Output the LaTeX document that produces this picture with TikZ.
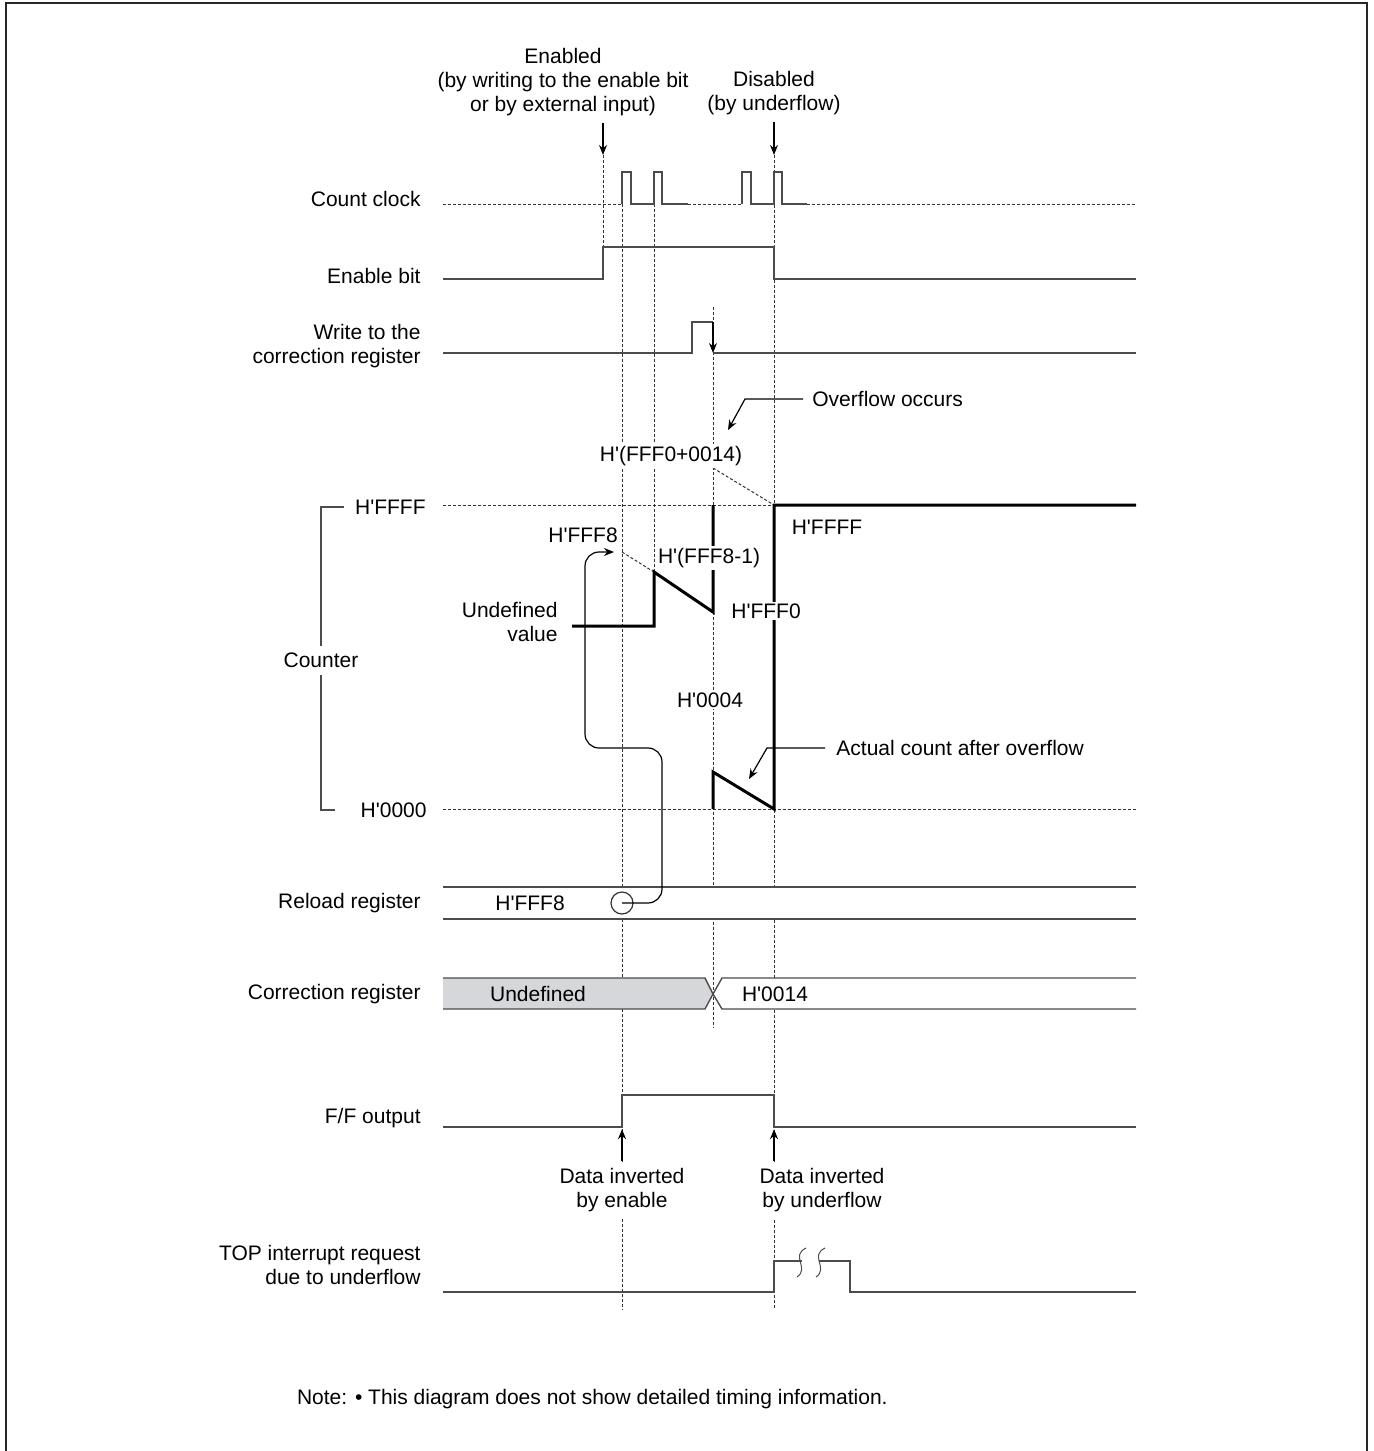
\documentclass[tikz,border=0pt]{standalone}
\usepackage{fontspec}
\setmainfont{Liberation Sans}
\usepackage{xcolor}
\usetikzlibrary{arrows.meta,positioning}
\definecolor{undefgray}{RGB}{213,215,219}
\newcommand{\Hx}[1]{H\textquotesingle#1}

\begin{document}
\begin{tikzpicture}[x=0.5pt, y=-0.5pt, font=\fontsize{10.5}{12}\selectfont,
  sig/.style={draw=black!70, line width=0.7pt},
  cnt/.style={draw=black, line width=1.5pt},
  guide/.style={draw=black!80, line width=0.5pt, dash pattern=on 1.5pt off 1pt},
  lbl/.style={anchor=east, align=right, inner sep=0pt},
  val/.style={fill=white, draw=none, inner sep=1pt},
  annot/.style={-{Stealth[length=5pt, width=4pt]}, line width=0.6pt}]
  \useasboundingbox (0,0) rectangle (1374,1451);
  \draw[line width=1pt, black!85] (6,1451) -- (6,3) -- (1367,3) -- (1367,1451);

  % signal names
  \node[lbl] (lclk) at (421,199) {Count clock};
  \node[lbl] (len) at (421,276) {Enable bit};
  \node[lbl] (lwr) at (421,346) {Write to the\\correction register};
  \node[lbl] (lmax) at (426,507) {\Hx{FFFF}};
  \node[lbl] (lmin) at (427,810) {\Hx{0000}};
  \node (lcnt) at (321,660) {Counter};
  \node[lbl] (lrel) at (421,903) {Reload register};
  \node[lbl] (lcor) at (421,994) {Correction register};
  \node[lbl] (lff) at (421,1118) {F/F output};
  \node[lbl] (ltop) at (421,1265) {TOP interrupt request\\due to underflow};
  \draw[sig] (344,507) -- (321,507) -- (lcnt.north);
  \draw[sig] (335,810) -- (321,810) -- (lcnt.south);

  % events
  \node[align=center] (enl) at (563,82) {Enabled\\(by writing to the enable bit\\or by external input)};
  \node[align=center] (disl) at (774,93) {Disabled\\(by underflow)};
  \coordinate (enpt) at (603,155);
  \coordinate (dispt) at (774,155);
  \draw[annot] (enl.south -| enpt) -- (enpt);
  \draw[annot] (disl.south -| dispt) -- (dispt);

  % guide lines
  \draw[guide] (enpt) -- (603,247);
  \draw[guide] (622,204) -- (622,1310);
  \draw[guide] (654,204) -- (654,572);
  \draw[guide] (713,307) -- (713,1028);
  \draw[guide] (dispt) -- (774,1310);
  \draw[guide] (443,505) -- (774,505);
  \draw[guide] (443,809) -- (1136,809);
  \draw[guide] (622,552) -- (654,572);
  \draw[guide] (713,468) -- (774,505);

  % count clock
  \draw[guide] (443,204) -- (622,204) (688,204) -- (742,204) (807,204) -- (1136,204);
  \draw[sig] (622,204) -- (622,172) -- (631,172) -- (631,204) -- (654,204) -- (654,172)
    -- (662,172) -- (662,204) -- (688,204);
  \draw[sig] (742,204) -- (742,172) -- (751,172) -- (751,204) -- (774,204) -- (774,172)
    -- (782,172) -- (782,204) -- (807,204);

  % enable bit, write
  \draw[sig] (443,279) -- (603,279) -- (603,247) -- (774,247) -- (774,279) -- (1136,279);
  \draw[sig] (443,353) -- (692,353) -- (692,322) -- (713,322);
  \draw[annot] (713,322) -- (713,353);
  \draw[sig] (713,353) -- (1136,353);

  % counter
  \draw[cnt] (572,626) -- (654,626) -- (654,572) -- (713,612) -- (713,505);
  \draw[cnt] (713,809) -- (713,772) -- (774,809) -- (774,505) -- (1136,505);
  \node[val] (vsum) at (671,456) {\Hx{(FFF0+0014)}};
  \node[val] (vmax) at (827,527) {\Hx{FFFF}};
  \node[val] (vrel) at (583,535) {\Hx{FFF8}};
  \node[val] (vdec) at (709,558) {\Hx{(FFF8-1)}};
  \node[val] (vfff) at (766,611) {\Hx{FFF0}};
  \node[val] (vfour) at (710,700) {\Hx{0004}};
  \node[lbl] (vund) at (558,622) {Undefined\\value};

  \node[anchor=west, inner sep=0pt] (ovf) at (812,399) {Overflow occurs};
  \draw[annot] ([xshift=-4.5pt]ovf.west) -- (745,399) -- (728,430);
  \node[anchor=west, inner sep=0pt] (act) at (836,748) {Actual count after overflow};
  \draw[annot] ([xshift=-5.5pt]act.west) -- (767,748) -- (749,779);

  % reload register
  \fill[white] (443,887) rectangle (1136,919);
  \draw[sig] (443,887) -- (1136,887) (443,919) -- (1136,919);
  \node (rval) at (530,903) {\Hx{FFF8}};
  \node[circle, draw=black!80, line width=0.6pt, minimum size=11pt, inner sep=0pt] (src) at (622,903) {};
  \coordinate (reltip) at (614,552);
  \draw[annot, rounded corners=7pt] (src.center) -- (662,903) -- (662,748) -- (585,748)
    -- (585,552) -- (reltip);

  % correction register
  \draw[sig, fill=undefgray] (443,978) -- (705,978) -- (713,994) -- (705,1009) -- (443,1009);
  \fill[white] (1136,978) -- (722,978) -- (716,988) -- (716,1000) -- (722,1009) -- (1136,1009);
  \draw[sig] (1136,978) -- (722,978) -- (713,994) -- (722,1009) -- (1136,1009);
  \node (cund) at (538,994) {Undefined};
  \node (cval) at (775,994) {\Hx{0014}};

  % F/F output
  \draw[sig] (443,1127) -- (622,1127) -- (622,1095) -- (774,1095) -- (774,1127) -- (1136,1127);
  \node[align=center, fill=white] (inv1) at (622,1190) {Data inverted\\by enable};
  \node[align=center, fill=white] (inv2) at (822,1190) {Data inverted\\by underflow};
  \draw[annot] (inv1.north) -- ++(0,-32);
  \draw[annot] (inv2.north -| dispt) -- ++(0,-32);

  % TOP interrupt
  \draw[sig] (443,1292) -- (774,1292) -- (774,1261) -- (802,1261);
  \draw[sig] (819,1261) -- (850,1261) -- (850,1292) -- (1136,1292);
  \foreach \s in {801,820} {
    \draw[sig, line width=0.5pt] (\s+5,1248) .. controls (\s-11,1256) and (\s+9,1268) .. (\s-4,1277);
  }

  \node[anchor=west] (note) at (290,1399) {Note: \textbullet\ This diagram does not show detailed timing information.};
\end{tikzpicture}
\end{document}
